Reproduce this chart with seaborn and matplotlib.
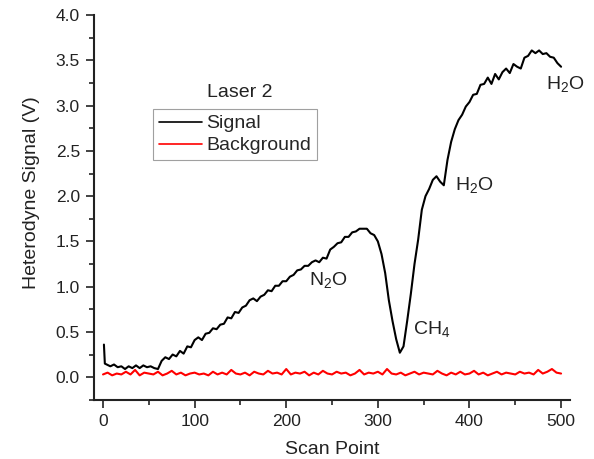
import numpy as np
import pandas as pd
import matplotlib
matplotlib.use("Agg")
import matplotlib.pyplot as plt
from matplotlib.ticker import MultipleLocator, FormatStrFormatter
import seaborn as sns

# signal trace (scan point, volts)
signal_x = [1, 2] + list(range(4, 501, 4))
signal_v = [
    0.36, 0.15,
    0.14, 0.12, 0.14, 0.11, 0.12, 0.09, 0.12, 0.10, 0.13, 0.10,
    0.13, 0.11, 0.12, 0.10, 0.09, 0.18, 0.22, 0.20, 0.25, 0.23,
    0.29, 0.26, 0.34, 0.33, 0.41, 0.44, 0.41, 0.48, 0.49, 0.54,
    0.53, 0.58, 0.59, 0.66, 0.65, 0.72, 0.71, 0.77, 0.79, 0.85,
    0.87, 0.84, 0.89, 0.91, 0.96, 0.95, 1.01, 1.01, 1.06, 1.06,
    1.11, 1.13, 1.18, 1.19, 1.23, 1.23, 1.27, 1.29, 1.27, 1.32,
    1.31, 1.41, 1.44, 1.48, 1.49, 1.55, 1.55, 1.60, 1.61, 1.64,
    1.64, 1.64, 1.59, 1.57, 1.50, 1.36, 1.15, 0.85, 0.62, 0.42,
    0.27, 0.34, 0.62, 0.92, 1.25, 1.52, 1.85, 2.00, 2.08, 2.18,
    2.22, 2.16, 2.12, 2.40, 2.60, 2.74, 2.84, 2.90, 2.99, 3.04,
    3.12, 3.13, 3.23, 3.24, 3.31, 3.24, 3.35, 3.29, 3.37, 3.41,
    3.36, 3.46, 3.43, 3.41, 3.53, 3.55, 3.61, 3.58, 3.61, 3.57,
    3.58, 3.54, 3.53, 3.47, 3.43,
]

# background trace, every 5 scan points
bg_x = list(range(0, 501, 5))
bg_v = [
    0.03, 0.05, 0.02, 0.04, 0.03, 0.06, 0.03, 0.08, 0.02, 0.05,
    0.04, 0.03, 0.06, 0.02, 0.04, 0.07, 0.03, 0.05, 0.02, 0.04,
    0.05, 0.03, 0.04, 0.02, 0.06, 0.03, 0.05, 0.03, 0.08, 0.04,
    0.03, 0.05, 0.02, 0.06, 0.04, 0.03, 0.07, 0.04, 0.05, 0.03,
    0.09, 0.03, 0.05, 0.04, 0.06, 0.02, 0.05, 0.03, 0.07, 0.04,
    0.03, 0.06, 0.04, 0.05, 0.02, 0.04, 0.08, 0.03, 0.05, 0.04,
    0.06, 0.03, 0.09, 0.04, 0.03, 0.05, 0.02, 0.04, 0.06, 0.03,
    0.05, 0.04, 0.03, 0.07, 0.04, 0.02, 0.05, 0.03, 0.06, 0.03,
    0.04, 0.07, 0.03, 0.05, 0.02, 0.04, 0.06, 0.03, 0.05, 0.04,
    0.03, 0.06, 0.04, 0.05, 0.03, 0.08, 0.04, 0.06, 0.09, 0.05, 0.04,
]

# peak labels (left edge, baseline)
peak_labels = ["N$_2$O", "CH$_4$", "H$_2$O", "H$_2$O"]
peak_x = [225, 338, 384, 483]
peak_y = [1.02, 0.48, 2.07, 3.18]

sns.set_style("ticks")
plt.rcParams["font.family"] = ["Liberation Sans", "DejaVu Sans"]
plt.rcParams["mathtext.fontset"] = "custom"
plt.rcParams["mathtext.rm"] = "Liberation Sans"
plt.rcParams["mathtext.it"] = "Liberation Sans:italic"
plt.rcParams["mathtext.default"] = "rm"

txt = "#222222"
sig = pd.DataFrame({"x": signal_x, "v": signal_v})
bg = pd.DataFrame({"x": bg_x, "v": bg_v})

fig = plt.figure(figsize=(5.94, 4.59), dpi=100)
ax = fig.add_axes([0.158, 0.129, 0.802, 0.838])

sns.lineplot(data=sig, x="x", y="v", ax=ax, color="black", lw=1.5, label="Signal")
sns.lineplot(data=bg, x="x", y="v", ax=ax, color="red", lw=1.5, label="Background")

ax.set_xlim(-10, 510)
ax.set_ylim(-0.25, 4.0)
ax.xaxis.set_major_locator(MultipleLocator(100))
ax.xaxis.set_minor_locator(MultipleLocator(50))
ax.yaxis.set_major_locator(MultipleLocator(0.5))
ax.yaxis.set_minor_locator(MultipleLocator(0.25))
ax.yaxis.set_major_formatter(FormatStrFormatter("%.1f"))
ax.tick_params(which="major", length=6, width=1.2, labelsize=12.5, colors=txt, pad=4)
ax.tick_params(which="minor", length=3.5, width=1.2, colors=txt)
for s in ["left", "bottom"]:
    ax.spines[s].set_linewidth(1.5)
    ax.spines[s].set_color(txt)
sns.despine(ax=ax)

ax.set_xlabel("Scan Point", fontsize=14, labelpad=9, color=txt)
ax.set_ylabel("Heterodyne Signal (V)", fontsize=14, color=txt)
ax.yaxis.set_label_coords(-0.112, 0.538)

leg = ax.legend(loc="upper left", bbox_to_anchor=(0.124, 0.756), fontsize=14,
                frameon=True, fancybox=False, handlelength=2.2, handletextpad=0.25,
                borderpad=0.3, labelspacing=0.22, borderaxespad=0)
leg.get_frame().set_edgecolor("#888888")
leg.get_frame().set_linewidth(0.8)
for h in leg.get_lines():
    h.set_linewidth(1.2)
ax.text(0.307, 0.80, "Laser 2", transform=ax.transAxes, fontsize=14,
        ha="center", va="center", color=txt)

for lab, px, py in zip(peak_labels, peak_x, peak_y):
    ax.text(px, py, lab, fontsize=14, ha="left", va="baseline", color=txt)

fig.savefig("out.png", dpi=100)
